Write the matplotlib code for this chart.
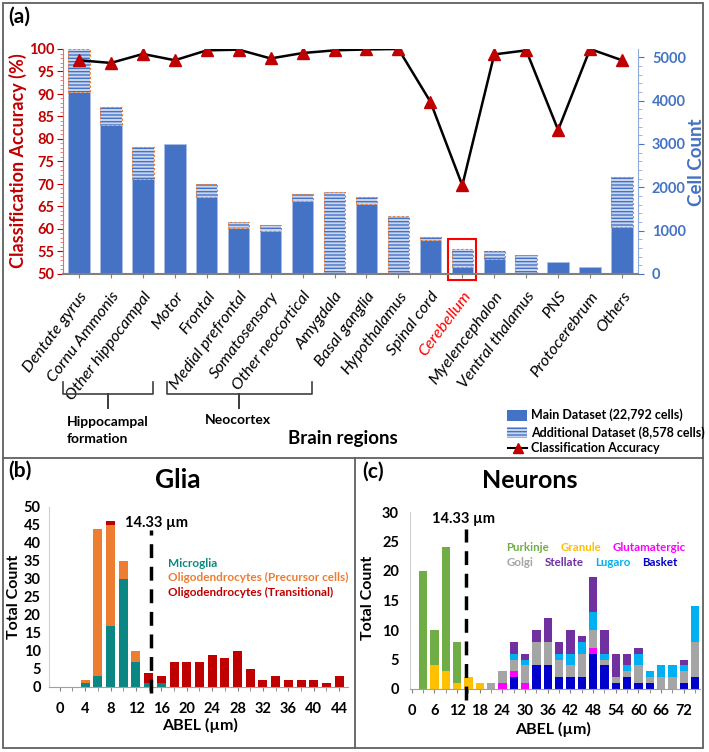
import matplotlib
matplotlib.use('Agg')
import matplotlib.pyplot as plt
import numpy as np
from matplotlib.patches import Rectangle
from matplotlib.lines import Line2D

plt.rcParams['font.family'] = ['Lato', 'DejaVu Sans']
plt.rcParams['hatch.linewidth'] = 1.0

W, H = 709, 752

# ---------------- data: panel (a) ----------------
regions = ['Dentate gyrus', 'Cornu Ammonis', 'Other hippocampal', 'Motor', 'Frontal',
           'Medial prefrontal', 'Somatosensory', 'Other neocortical', 'Amygdala',
           'Basal ganglia', 'Hypothalamus', 'Spinal cord', 'Cerebellum', 'Myelencephalon',
           'Ventral thalamus', 'PNS', 'Protocerebrum', 'Others']
main_counts = [4187, 3434, 2201, 3002, 1785, 1062, 986, 1678, 0, 1617, 0, 785, 169, 353, 0, 277, 155, 1092]
additional_counts = [1003, 416, 739, 0, 293, 138, 153, 170, 1894, 154, 1340, 77, 415, 185, 432, 0, 0, 1155]
accuracy = [97.5, 96.9, 98.9, 97.5, 99.7, 99.85, 97.9, 99.1, 99.7, 99.9, 100.0, 88.3, 69.7,
            98.8, 99.7, 82.0, 100.0, 97.5]

# ---------------- data: panel (b) ----------------
glia_abel = list(range(0, 46, 2))
microglia = [0, 0, 1, 3, 17, 30, 7, 1, 1, 0, 0, 0, 0, 0, 0, 0, 0, 0, 0, 0, 0, 0, 0]
oligo_precursor = [0, 0, 1, 41, 28, 5, 3, 0, 0, 0, 0, 0, 0, 0, 0, 0, 0, 0, 0, 0, 0, 0, 0]
oligo_transitional = [0, 0, 0, 0, 1, 0, 0, 3, 2, 7, 7, 7, 9, 8, 10, 5, 2, 3, 2, 2, 2, 1, 3]
glia_ticks = list(range(0, 45, 4))

# ---------------- data: panel (c) ----------------
neuron_abel = list(range(3, 78, 3))
basket =        [0, 0, 0, 0, 0, 0, 0, 0, 2, 0, 4, 4, 2, 2, 2, 6, 4, 1, 2, 1, 1, 0, 0, 1, 2]
granule =       [0, 4, 3, 1, 2, 1, 0, 0, 0, 0, 0, 0, 0, 0, 0, 0, 0, 0, 0, 0, 0, 0, 0, 0, 0]
glutamatergic = [0, 0, 0, 0, 0, 0, 0, 1, 1, 1, 0, 0, 0, 0, 0, 1, 0, 0, 0, 0, 0, 0, 0, 0, 0]
golgi =         [0, 0, 0, 0, 0, 0, 1, 2, 2, 3, 4, 4, 3, 2, 4, 3, 1, 1, 1, 3, 1, 2, 2, 2, 6]
lugaro =        [0, 0, 0, 0, 0, 0, 0, 0, 1, 1, 0, 0, 1, 2, 2, 3, 1, 0, 1, 2, 1, 2, 2, 1, 6]
stellate =      [0, 0, 0, 0, 0, 0, 0, 0, 2, 1, 2, 4, 2, 4, 1, 6, 4, 4, 2, 1, 0, 0, 0, 1, 0]
purkinje =      [20, 6, 21, 7, 0, 0, 0, 0, 0, 0, 0, 0, 0, 0, 0, 0, 0, 0, 0, 0, 0, 0, 0, 0, 0]
neuron_ticks = list(range(0, 73, 6))

threshold = 14.33

fig = plt.figure(figsize=(W / 100, H / 100), dpi=100)


def px_axes(x0, y0, x1, y1):
    return fig.add_axes([x0 / W, 1 - y1 / H, (x1 - x0) / W, (y1 - y0) / H])


def ftext(x, y, s, **kw):
    return fig.text(x / W, 1 - y / H, s, **kw)


RED = '#c00000'
BLUE = '#4472c4'

# ================= panel (a) =================
ax = px_axes(63, 49, 638, 274)
ax2 = ax.twinx()
xi = np.arange(len(regions))
ax2.bar(xi, main_counts, width=0.67, color=BLUE, edgecolor='#a9bde6', linewidth=0.6, zorder=2)
ax2.bar(xi, additional_counts, width=0.67, bottom=main_counts, color='#c9d6f0',
        edgecolor=BLUE, hatch='-----', linewidth=0, zorder=2)
ax2.bar(xi, [a if a > 0 else np.nan for a in additional_counts], width=0.67, bottom=main_counts,
        color='none', edgecolor='#ed7d31', linestyle=(0, (2, 2)), linewidth=0.8, zorder=3)
ax2.set_ylim(0, 5190)
ax.plot(xi, accuracy, color='black', lw=1.8, marker='^', markersize=8.5,
        markerfacecolor=RED, markeredgecolor=RED, zorder=5)
ax.set_ylim(50, 100)
ax.set_xlim(-0.5, len(regions) - 0.5)
ax.set_zorder(ax2.get_zorder() + 1)
ax.patch.set_visible(False)

for a in (ax, ax2):
    a.spines['top'].set_visible(False)
ax.spines['right'].set_visible(False)
ax2.spines['left'].set_visible(False)
ax2.spines['bottom'].set_visible(False)
ax.spines['bottom'].set_color('#808080')
ax.spines['bottom'].set_linewidth(1.5)
ax.spines['left'].set_color('#e07070')
ax2.spines['right'].set_color('#8faadc')

ax.set_yticks(np.arange(50, 101, 5))
ax.set_yticks(np.arange(50, 101, 1), minor=True)
ax.tick_params(axis='y', which='major', colors=RED, length=4, labelsize=10.5, pad=2)
ax.tick_params(axis='y', which='minor', colors='#e07070', length=2.5)
for t in ax.get_yticklabels():
    t.set_fontweight('bold')
ax2.set_yticks(np.arange(0, 5001, 1000))
ax2.set_yticks(np.arange(0, 5001, 200), minor=True)
ax2.tick_params(axis='y', which='major', colors=BLUE, length=4, labelsize=10.5, pad=6)
ax2.tick_params(axis='y', which='minor', colors='#8faadc', length=3)
for t in ax2.get_yticklabels():
    t.set_fontweight('bold')

ax.set_xticks(xi)
ax.set_xticklabels(regions, rotation=53, ha='right', va='top', rotation_mode='anchor',
                   fontsize=11.8, style='italic')
ax.tick_params(axis='x', length=3, color='#808080', pad=8)
for t in ax.get_xticklabels():
    if t.get_text() == 'Cerebellum':
        t.set_color('#ff0000')

ax2.add_patch(Rectangle((12 - 0.44, -139), 0.88, 947, fill=False, edgecolor='#ff0000',
                        linewidth=1.5, clip_on=False, zorder=6))

ftext(18, 161, 'Classification Accuracy (%)', color=RED, fontsize=13, fontweight='bold',
      rotation=90, ha='center', va='center')
ftext(697, 162, 'Cell Count', color=BLUE, fontsize=13.5, fontweight='bold',
      rotation=90, ha='center', va='center')
ftext(8, 17, '(a)', fontsize=15, fontweight='bold', ha='left', va='center')


# brackets
def bracket(x0, x1, y_top, y_mid, y_tip):
    xc = (x0 + x1) / 2
    xs = [x0, x0, xc - 3, xc, xc, xc, xc + 3, x1, x1]
    ys = [y_top, y_mid, y_mid, y_mid, y_tip, y_mid, y_mid, y_mid, y_top]
    fig.add_artist(Line2D([x / W for x in xs], [1 - y / H for y in ys], color='#404040', lw=1.2))


bracket(63, 153, 382, 394, 408)
bracket(167, 312, 382, 394, 408)
ftext(67, 422, 'Hippocampal', fontsize=10, fontweight='bold', ha='left', va='center')
ftext(67, 439, 'formation', fontsize=10, fontweight='bold', ha='left', va='center')
ftext(238, 420, 'Neocortex', fontsize=10, fontweight='bold', ha='center', va='center')
ftext(343, 438, 'Brain regions', fontsize=13.5, fontweight='bold', ha='center', va='center')

# legend (a)
fig.add_artist(Rectangle((507 / W, 1 - 421 / H), 20 / W, 11 / H, facecolor=BLUE, edgecolor='none'))
fig.add_artist(Rectangle((507 / W, 1 - 438 / H), 20 / W, 11 / H, facecolor='#c9d6f0',
                         edgecolor=BLUE, hatch='-----', linewidth=0))
fig.add_artist(Line2D([508 / W, 527 / W], [1 - 448 / H, 1 - 448 / H], color='black', lw=1.5))
fig.add_artist(Line2D([517.5 / W], [1 - 448 / H], marker='^', markersize=7, color=RED))
ftext(531, 415, 'Main Dataset (22,792 cells)', fontsize=9, fontweight='bold', va='center')
ftext(531, 433, 'Additional Dataset (8,578 cells)', fontsize=9, fontweight='bold', va='center')
ftext(531, 448, 'Classification Accuracy', fontsize=9, fontweight='bold', va='center')

# ================= panel (b) =================
bx = px_axes(49, 507, 348, 687)
TEAL, ORANGE, DRED = '#0b8783', '#ed7d31', '#c00000'
gb = np.array(microglia)
bx.bar(glia_abel, microglia, width=1.42, color=TEAL)
bx.bar(glia_abel, oligo_precursor, width=1.42, bottom=gb, color=ORANGE)
bx.bar(glia_abel, oligo_transitional, width=1.42, bottom=gb + np.array(oligo_precursor), color=DRED)
bx.set_xlim(-1.7, 45.4)
bx.set_ylim(0, 50)
bx.set_yticks(range(0, 51, 5))
bx.set_xticks(glia_abel, minor=True)
bx.set_xticks(glia_ticks)
bx.tick_params(axis='x', which='both', length=3, color='#808080', labelsize=10.5, pad=8)
bx.tick_params(axis='y', length=0, labelsize=10.5, pad=6)
for t in bx.get_xticklabels() + bx.get_yticklabels():
    t.set_fontweight('bold')
for s in ('top', 'right'):
    bx.spines[s].set_visible(False)
bx.spines['bottom'].set_color('#a0a0a0')
bx.spines['left'].set_color('#d0d0d0')
bx.plot([threshold, threshold], [-1.8, 43.7], color='black', lw=2.5, ls=(0, (4, 2.5)),
        clip_on=False, zorder=5)
bx.text(15.3, 45.6, '14.33 µm', fontsize=10.5, fontweight='bold', ha='center', va='center')
bx.text(17.0, 34.4, 'Microglia', color=TEAL, fontsize=8.5, fontweight='bold', va='center')
bx.text(17.0, 30.3, 'Oligodendrocytes (Precursor cells)', color=ORANGE, fontsize=8.5,
        fontweight='bold', va='center')
bx.text(17.0, 26.3, 'Oligodendrocytes (Transitional)', color=DRED, fontsize=8.5,
        fontweight='bold', va='center')
ftext(178, 480, 'Glia', fontsize=19, fontweight='bold', ha='center', va='center')
ftext(8, 471, '(b)', fontsize=15, fontweight='bold', ha='left', va='center')
ftext(14, 597, 'Total Count', fontsize=11.5, fontweight='bold', rotation=90, ha='center', va='center')
ftext(200, 725, 'ABEL (µm)', fontsize=11.5, fontweight='bold', ha='center', va='center')

# ================= panel (c) =================
cx = px_axes(410, 512, 700, 689)
series = [(basket, '#0000cc'), (granule, '#ffc000'), (glutamatergic, '#ff00ff'),
          (golgi, '#a5a5a5'), (lugaro, '#00b0f0'), (stellate, '#7030a0'), (purkinje, '#70ad47')]
bottom = np.zeros(len(neuron_abel))
for vals, col in series:
    cx.bar(neuron_abel, vals, width=2.2, bottom=bottom, color=col)
    bottom = bottom + np.array(vals)
cx.set_xlim(-0.45, 76.3)
cx.set_ylim(0, 30)
cx.set_yticks(range(0, 31, 5))
cx.set_xticks(range(0, 76, 3), minor=True)
cx.set_xticks(neuron_ticks)
cx.tick_params(axis='x', which='both', length=3, color='#808080', labelsize=10.5, pad=8)
cx.tick_params(axis='y', length=0, labelsize=10.5, pad=8)
for t in cx.get_xticklabels() + cx.get_yticklabels():
    t.set_fontweight('bold')
for s in ('top', 'right'):
    cx.spines[s].set_visible(False)
cx.spines['bottom'].set_color('#a0a0a0')
cx.spines['left'].set_color('#d0d0d0')
cx.plot([threshold, threshold], [-1.9, 27.2], color='black', lw=2.5, ls=(0, (4, 2.5)),
        clip_on=False, zorder=5)
cx.text(13.8, 28.8, '14.33 µm', fontsize=10.5, fontweight='bold', ha='center', va='center')
leg_c = [('Purkinje', '#70ad47', 25.0, 23.9), ('Granule', '#ffc000', 39.3, 23.9),
         ('Glutamatergic', '#ff00ff', 53.3, 23.9), ('Golgi', '#a5a5a5', 25.0, 21.5),
         ('Stellate', '#7030a0', 35.3, 21.5), ('Lugaro', '#00b0f0', 48.6, 21.5),
         ('Basket', '#0000cc', 60.9, 21.5)]
for name, col, x, y in leg_c:
    cx.text(x, y, name, color=col, fontsize=8.3, fontweight='bold', va='center')
ftext(530, 480, 'Neurons', fontsize=18, fontweight='bold', ha='center', va='center')
ftext(362, 472, '(c)', fontsize=15, fontweight='bold', ha='left', va='center')
ftext(368, 598, 'Total Count', fontsize=11.5, fontweight='bold', rotation=90, ha='center', va='center')
ftext(553, 729, 'ABEL (µm)', fontsize=11.5, fontweight='bold', ha='center', va='center')

# frames
FC = '#606060'
fig.add_artist(Rectangle((3 / W, 1 - 748 / H), 700 / W, 745 / H, fill=False, edgecolor=FC, lw=1.3))
fig.add_artist(Line2D([3 / W, 703 / W], [1 - 458 / H, 1 - 458 / H], color=FC, lw=1.3))
fig.add_artist(Line2D([355 / W, 355 / W], [1 - 458 / H, 1 - 748 / H], color=FC, lw=1.3))

fig.savefig('out.png', dpi=100)
